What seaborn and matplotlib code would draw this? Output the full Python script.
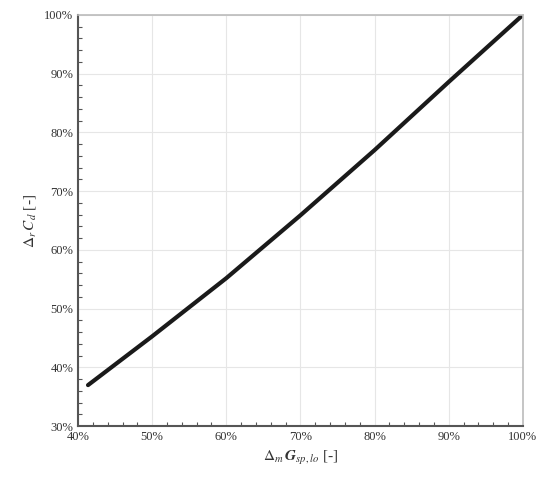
import matplotlib
matplotlib.use("Agg")
import pandas as pd
import seaborn as sns
from matplotlib import pyplot as plt
from matplotlib.ticker import MultipleLocator, FuncFormatter

# 数据：从图中读取
delta_g = [41.35, 50.0, 60.0, 70.0, 80.0, 90.0, 100.0]
delta_c = [37.0, 45.3, 55.2, 65.9, 77.0, 88.6, 100.0]
x_ticks = [40, 50, 60, 70, 80, 90, 100]
y_ticks = [30, 40, 50, 60, 70, 80, 90, 100]

sns.set_theme(style="whitegrid")
plt.rcParams["font.family"] = ["Liberation Serif", "DejaVu Serif"]
plt.rcParams["mathtext.fontset"] = "stix"

df = pd.DataFrame({"g": delta_g, "c": delta_c})

fig = plt.figure(figsize=(5.38, 4.8), dpi=100)
ax = fig.add_axes([0.145, 0.112, 0.827, 0.857])

sns.lineplot(data=df, x="g", y="c", color="#1a1a1a", linewidth=3, ax=ax)

ax.set_xlim(40, 100)
ax.set_ylim(30, 100)
ax.set_xticks(x_ticks)
ax.set_yticks(y_ticks)
ax.xaxis.set_minor_locator(MultipleLocator(2))
ax.yaxis.set_minor_locator(MultipleLocator(2))
pct = FuncFormatter(lambda v, _: f"{v:.0f}%")
ax.xaxis.set_major_formatter(pct)
ax.yaxis.set_major_formatter(pct)

ax.grid(True, which="major", color="#e6e6e6", linewidth=0.8)
ax.tick_params(which="both", direction="in", colors="#555555",
               labelcolor="#333333", labelsize=9)
ax.tick_params(which="major", length=5, width=1)
ax.tick_params(which="minor", length=3, width=0.8, left=True, bottom=True)
for side in ("left", "bottom"):
    ax.spines[side].set_color("#555555")
    ax.spines[side].set_linewidth(1.5)
for side in ("top", "right"):
    ax.spines[side].set_color("#bbbbbb")
    ax.spines[side].set_linewidth(1.2)

ax.set_xlabel(r"$\Delta_m\,\boldsymbol{G}_{sp,lo}$ [-]", fontsize=11, color="#333333")
ax.set_ylabel(r"$\Delta_r\,C_d$ [-]", fontsize=11, color="#333333")

fig.savefig("out.png", dpi=100)
